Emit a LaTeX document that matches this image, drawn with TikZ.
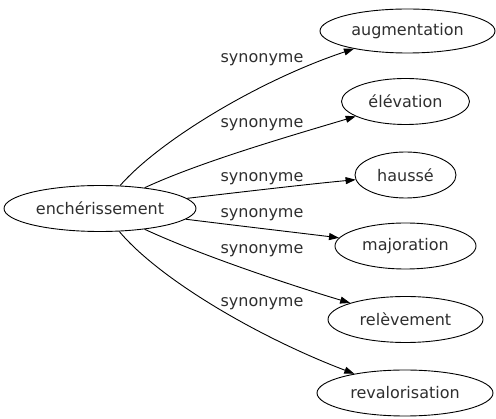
\documentclass[tikz,border=0pt]{standalone}
\usepackage{fontspec}
\setmainfont{DejaVu Sans}
\usetikzlibrary{arrows.meta,shapes.geometric}
\begin{document}
\begin{tikzpicture}[x=1pt,y=-1pt,
  every node/.style={font=\fontsize{16}{19}\selectfont,text=black!82},
  word/.style={ellipse,draw=black,line width=0.9pt,inner sep=0pt,minimum height=46pt},
  rel/.style={line width=0.9pt,-{Triangle[length=10pt,width=7pt]}},
  lab/.style={inner sep=0pt,text height=12pt,text depth=3pt}]
\useasboundingbox (0,0) rectangle (496,419);
\node[word,minimum width=192pt] (c) at (100,208.5) {enchérissement};
\node[word,minimum width=175pt,minimum height=44pt] (t1) at (407.5,31) {augmentation};
\node[word,minimum width=128pt] (t2) at (405.5,101.5) {élévation};
\node[word,minimum width=101pt] (t3) at (405.5,175) {haussé};
\node[word,minimum width=141pt] (t4) at (405.5,246) {majoration};
\node[word,minimum width=155pt] (t5) at (405.5,319.5) {relèvement};
\node[word,minimum width=176pt] (t6) at (405,393) {revalorisation};
\draw[rel] (c) .. controls (160,140) and (260,80) .. (t1);
\draw[rel] (c) .. controls (200,162) and (290,136) .. (t2);
\draw[rel] (c) .. controls (250,191) and (310,184) .. (t3);
\draw[rel] (c) .. controls (240,226) and (300,233) .. (t4);
\draw[rel] (c) .. controls (200,255) and (290,285) .. (t5);
\draw[rel] (c) .. controls (160,280) and (260,338) .. (t6);
\node[lab] (l1) at (262,58) {synonyme};
\node[lab] (l2) at (262,123) {synonyme};
\node[lab] (l3) at (262,177) {synonyme};
\node[lab] (l4) at (262,213) {synonyme};
\node[lab] (l5) at (262,249) {synonyme};
\node[lab] (l6) at (262,302) {synonyme};
\end{tikzpicture}
\end{document}
